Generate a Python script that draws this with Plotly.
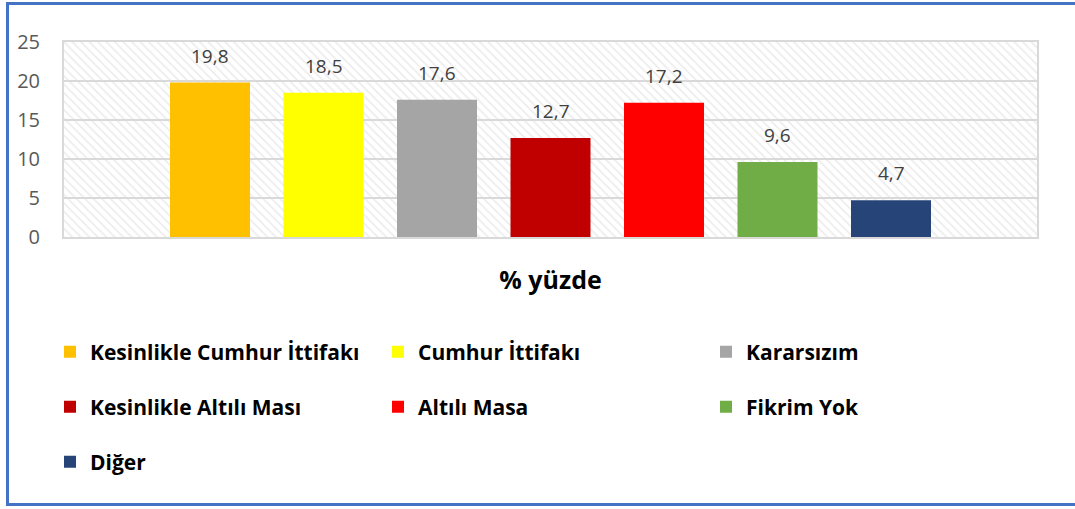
import plotly.graph_objects as go

# ---- data ----
series_names = ["Kesinlikle Cumhur İttifakı", "Cumhur İttifakı", "Kararsızım",
                "Kesinlikle Altılı Ması", "Altılı Masa", "Fikrim Yok", "Diğer"]
values = [19.8, 18.5, 17.6, 12.7, 17.2, 9.6, 4.7]
category_label = "% yüzde"
y_ticks = [0, 5, 10, 15, 20, 25]

# ---- styles ----
colors = ["#FFC000", "#FFFF00", "#A5A5A5", "#C00000", "#FF0000", "#70AD47", "#264478"]
W, H = 1075, 509
L, R, T, B = 64, 38, 42, 272
plot_w = W - L - R
plot_h = H - T - B
n = len(values)
slot_px = 113.5
pad = (plot_w - (n - 1) * slot_px) / 2 / slot_px
x_range = [-pad, (n - 1) + pad]
bar_w = 80 / slot_px
legend_rows = [[0, 1, 2], [3, 4, 5], [6]]
row_centers_px = [352, 407, 462]

def py(p):
    return (H - B - p) / plot_h

def px(p):
    return (p - L) / plot_w

fig = go.Figure()

# hatched background of the plot area
fig.add_trace(go.Bar(
    x=[(n - 1) / 2], y=[y_ticks[-1]], width=[x_range[1] - x_range[0]],
    marker=dict(color="rgba(0,0,0,0)", line=dict(width=0),
                pattern=dict(shape="\\", fgcolor="#DADADA", bgcolor="rgba(0,0,0,0)",
                             size=6, solidity=0.3)),
    showlegend=False, hoverinfo="skip"))

legend_of = {}
for r, row in enumerate(legend_rows):
    for i in row:
        legend_of[i] = "legend" if r == 0 else f"legend{r+1}"

for i, (name, v) in enumerate(zip(series_names, values)):
    fig.add_trace(go.Bar(
        x=[i], y=[v], width=[bar_w], name=name,
        marker=dict(color=colors[i], line=dict(width=0)),
        legend=legend_of[i]))
    fig.add_annotation(x=i, y=v, text=f"{v:.1f}".replace(".", ","),
                       showarrow=False, yanchor="bottom", yshift=12,
                       font=dict(family="Open Sans", size=19, color="#404040"))

# blue frame
fig.add_shape(type="rect", xref="paper", yref="paper",
              x0=px(7.5), x1=px(1085), y0=py(504.5), y1=py(3.5),
              line=dict(color="#4472C4", width=3), layer="above")

legend_common = dict(orientation="h", xanchor="left", yanchor="middle",
                     font=dict(family="Open Sans", size=21, color="#000000", weight="bold"),
                     entrywidth=283, bgcolor="rgba(0,0,0,0)", itemclick=False)
layout_legends = {}
for r, yc in enumerate(row_centers_px):
    key = "legend" if r == 0 else f"legend{r+1}"
    layout_legends[key] = dict(legend_common, x=px(50), y=py(yc))

fig.update_layout(
    width=W, height=H,
    margin=dict(l=L, r=R, t=T, b=B),
    paper_bgcolor="white", plot_bgcolor="white",
    barmode="overlay",
    showlegend=True,
    xaxis=dict(range=x_range, tickvals=[(n - 1) / 2], ticktext=[category_label],
               showgrid=False, zeroline=False, showline=True, mirror=True,
               linecolor="#D9D9D9", linewidth=2, ticks="",
               ticklabelstandoff=20,
               tickfont=dict(family="Open Sans", size=25, color="#000000", weight="bold")),
    yaxis=dict(range=[y_ticks[0], y_ticks[-1]], tickvals=y_ticks,
               showgrid=True, gridcolor="#D9D9D9", gridwidth=2,
               zeroline=False, showline=True, mirror=True,
               linecolor="#D9D9D9", linewidth=2, ticks="",
               ticklabelstandoff=18,
               tickfont=dict(family="Open Sans", size=20, color="#595959")),
    **layout_legends,
)

fig.write_html("out.html", config={"displayModeBar": False},
               post_script="document.body.style.margin='0';document.body.style.overflow='hidden';")
